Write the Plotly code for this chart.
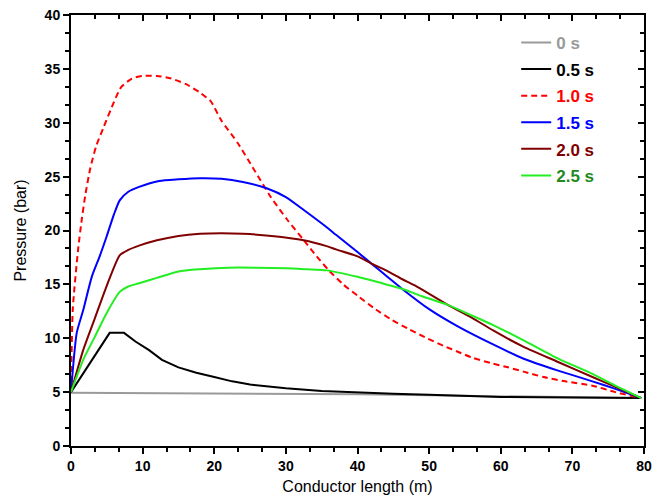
import plotly.graph_objects as go

# ---- data ----
x_0s = [0, 10, 20, 30, 40, 50, 60, 70, 79.6]
p_0s = [4.95, 4.93, 4.9, 4.85, 4.8, 4.7, 4.6, 4.5, 4.45]

x_05s = [0, 5.4, 7.4, 9, 10.9, 12.7, 15, 17.5, 20, 22.5, 25, 30, 35, 40, 45, 50, 55, 60, 70, 79.6]
p_05s = [5, 10.5, 10.5, 9.7, 8.9, 8.0, 7.3, 6.8, 6.4, 6.0, 5.7, 5.35, 5.1, 4.95, 4.85, 4.75, 4.65, 4.55, 4.5, 4.45]

x_10s = [0, 0.25, 1.0, 1.5, 2.0, 2.7, 3.5, 4.5, 5.6, 7, 8.5, 10, 12, 14, 16, 18, 19.5, 21, 23.3, 25.6,
         27.9, 30.2, 32.5, 34.3, 36, 38, 40.2, 42.5, 44.8, 47, 49.4, 52, 54, 56, 58.6, 61, 63.2, 66, 69,
         72.8, 76, 79.6]
p_10s = [5, 12.7, 18.3, 21, 23.3, 25.8, 27.8, 29.5, 31.3, 33.3, 34.1, 34.35, 34.35, 34.1, 33.6, 32.8, 32.0,
         30.2, 28.1, 25.6, 23.1, 21.0, 19.1, 17.6, 16.3, 15.0, 13.85, 12.7, 11.7, 10.9, 10.1, 9.3, 8.75, 8.2,
         7.7, 7.3, 6.9, 6.4, 6.0, 5.6, 5.0, 4.45]

x_15s = [0, 0.8, 1.7, 2.9, 4, 4.95, 6, 6.8, 8, 9.5, 12.3, 15, 18, 21, 24, 27.4, 30, 32.5, 35.7, 37, 40,
         41.9, 44, 46.2, 50, 54, 59, 63.2, 68, 72.8, 76, 79.6]
p_15s = [5, 10.5, 12.6, 15.7, 17.6, 19.4, 21.5, 22.8, 23.6, 24.05, 24.6, 24.75, 24.85, 24.8, 24.5, 23.9,
         23.1, 21.9, 20.3, 19.6, 18.0, 16.95, 15.8, 14.6, 12.7, 11.1, 9.4, 8.1, 7.0, 6.0, 5.3, 4.45]

x_20s = [0, 1.7, 3.3, 4.95, 6.8, 8, 9.5, 12, 15, 18, 21, 24, 28, 32.5, 35.7, 37, 40, 41.9, 44, 46.2, 48,
         52.6, 56, 59, 63.2, 68, 72.8, 76, 79.6]
p_20s = [5, 8.9, 11.8, 14.8, 17.7, 18.2, 18.6, 19.1, 19.5, 19.7, 19.75, 19.7, 19.5, 19.1, 18.55, 18.25,
         17.6, 16.95, 16.3, 15.5, 14.9, 13.1, 11.9, 10.7, 9.2, 7.8, 6.4, 5.5, 4.45]

x_25s = [0, 1.7, 3.3, 4.95, 6.8, 8, 9.5, 12, 15, 18, 22, 26, 30, 33, 35.7, 40, 44.8, 46.2, 49, 52.6,
         56, 59, 63.2, 68, 72.8, 76, 79.6]
p_25s = [5, 8.0, 10.1, 12.3, 14.3, 14.8, 15.1, 15.6, 16.2, 16.4, 16.55, 16.55, 16.5, 16.4, 16.3, 15.7,
         14.85, 14.6, 13.9, 13.1, 12.1, 11.2, 9.8, 8.1, 6.7, 5.6, 4.45]

series_names = ["0 s", "0.5 s", "1.0 s", "1.5 s", "2.0 s", "2.5 s"]
x_ticks = [0, 10, 20, 30, 40, 50, 60, 70, 80]
y_ticks = [0, 5, 10, 15, 20, 25, 30, 35, 40]

# ---- styles ----
line_colors = ["#9a9a9a", "#000000", "#ff0000", "#0000ff", "#800000", "#22ee22"]
text_colors = ["#9a9a9a", "#000000", "#ff0000", "#0000ff", "#800000", "#1f8a1f"]
dashes = ["solid", "solid", "6px,4px", "solid", "solid", "solid"]
shapes = ["linear", "linear", "spline", "spline", "spline", "spline"]

xs = [x_0s, x_05s, x_10s, x_15s, x_20s, x_25s]
ps = [p_0s, p_05s, p_10s, p_15s, p_20s, p_25s]

FONT = "Liberation Sans, Arial, sans-serif"

fig = go.Figure()
for i in range(6):
    ln = dict(color=line_colors[i], width=2, dash=dashes[i], shape=shapes[i])
    if shapes[i] == "spline":
        ln["smoothing"] = 0.6
    fig.add_trace(go.Scatter(
        x=xs[i], y=ps[i], mode="lines",
        name=f"<span style='color:{text_colors[i]}'><b>{series_names[i]}</b></span>",
        line=ln,
        legendgroup=f"g{i}",
    ))

# invisible copy of one series so the mirrored top/right axes get drawn
fig.add_trace(go.Scatter(x=x_0s, y=p_0s, xaxis="x2", yaxis="y2", mode="lines",
                         line=dict(width=0), opacity=0,
                         showlegend=False, hoverinfo="skip"))

common = dict(showline=True, linecolor="black", linewidth=2, showgrid=False, zeroline=False,
              automargin=False)

# the page body adds an 8px margin on every side; size the figure so the page fits the window
fig.update_layout(
    width=644, height=487,
    margin=dict(l=63, r=8, t=7, b=49),
    paper_bgcolor="white", plot_bgcolor="white",
    font=dict(family=FONT, color="black"),
    showlegend=True,
    legend=dict(
        x=0.777, y=0.977, xanchor="left", yanchor="top",
        bgcolor="rgba(0,0,0,0)",
        font=dict(family=FONT, size=17),
        tracegroupgap=1.5,
        itemwidth=30,
    ),
    xaxis=dict(
        **common, range=[0, 80], tickmode="array", tickvals=x_ticks,
        ticktext=[f"<b>{v}</b>" for v in x_ticks], ticklabeloverflow="allow",
        ticks="outside", ticklen=6, tickwidth=2, tickcolor="black",
        tickfont=dict(family=FONT, size=14, color="black"),
        minor=dict(dtick=10/3, tick0=0, ticks="outside", ticklen=4, tickwidth=2, tickcolor="black"),
        title=dict(text="Conductor length (m)", font=dict(family=FONT, size=16, color="black"), standoff=10),
    ),
    yaxis=dict(
        **common, range=[0, 40], tickmode="array", tickvals=y_ticks,
        ticktext=[f"<b>{v}</b>" for v in y_ticks], ticklabeloverflow="allow",
        ticks="outside", ticklen=6, tickwidth=2, tickcolor="black",
        tickfont=dict(family=FONT, size=14, color="black"),
        minor=dict(dtick=5/3, tick0=0, ticks="outside", ticklen=4, tickwidth=2, tickcolor="black"),
        title=dict(text="Pressure (bar)", font=dict(family=FONT, size=16, color="black"), standoff=14),
    ),
    xaxis2=dict(
        **common, overlaying="x", side="top", range=[0, 80], tickmode="array", tickvals=x_ticks,
        ticks="inside", ticklen=6, tickwidth=2, tickcolor="black", showticklabels=False,
        minor=dict(dtick=10/3, tick0=0, ticks="inside", ticklen=4, tickwidth=2, tickcolor="black"),
    ),
    yaxis2=dict(
        **common, overlaying="y", side="right", range=[0, 40], tickmode="array", tickvals=y_ticks,
        ticks="inside", ticklen=6, tickwidth=2, tickcolor="black", showticklabels=False,
        minor=dict(dtick=5/3, tick0=0, ticks="inside", ticklen=4, tickwidth=2, tickcolor="black"),
    ),
)

fig.write_html("out.html")
